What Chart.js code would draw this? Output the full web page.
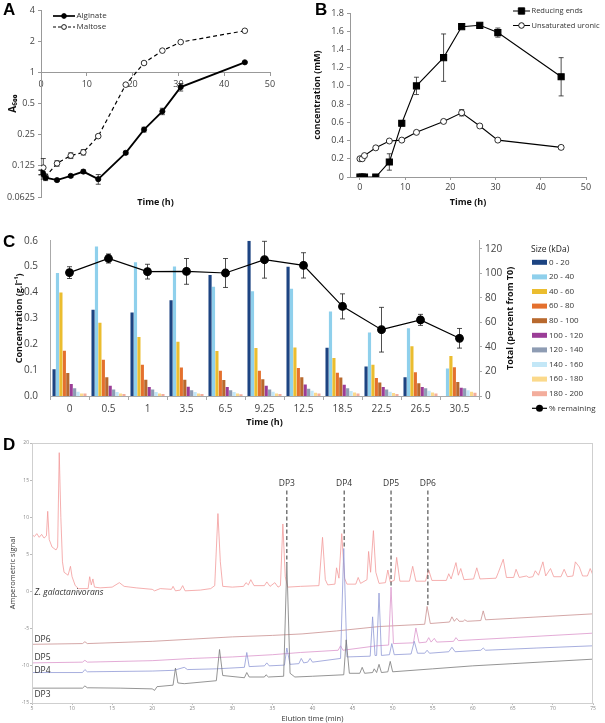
<!DOCTYPE html>
<html><head><meta charset="utf-8">
<script src="https://cdn.jsdelivr.net/npm/chart.js@4.4.1/dist/chart.umd.min.js"></script>
<style>
body{margin:0;background:#fff;width:605px;height:723px;position:relative;overflow:hidden;font-family:"Open Sans",sans-serif}
.p{position:absolute}
.lbl{position:absolute;font:bold 17px "Liberation Sans",Arial,sans-serif;line-height:17px;color:#000}
canvas{display:block}
</style></head><body>
<div class="p" style="left:0;top:0"><canvas id="cA" width="300" height="215"></canvas></div>
<div class="p" style="left:300px;top:0"><canvas id="cB" width="305" height="215"></canvas></div>
<div class="p" style="left:0;top:225px"><canvas id="cC" width="605" height="210"></canvas></div>
<div class="p" style="left:0;top:435px"><canvas id="cD" width="605" height="288"></canvas></div>
<div class="lbl" style="left:3px;top:1px">A</div>
<div class="lbl" style="left:315px;top:1px">B</div>
<div class="lbl" style="left:3px;top:233px">C</div>
<div class="lbl" style="left:3px;top:436px">D</div>
<script>
// ---------- Panel A data ----------
const timeA = [0,0.5,1,3.5,6.5,9.25,12.5,18.5,22.5,26.5,30.5,44.5];
const alginate = [0.108,0.104,0.096,0.091,0.100,0.110,0.093,0.167,0.28,0.42,0.72,1.25];
const alginateErr = [0.005,0.006,0.006,0.003,0.003,0.004,0.01,0.006,0.015,0.03,0.06,0.02];
const maltose = [0.108,0.120,0.098,0.132,0.157,0.169,0.242,0.76,1.23,1.62,1.96,2.52];
const maltoseErr = [0.006,0.027,0.006,0.008,0.01,0.01,0.006,0.02,0.03,0.03,0.03,0.03];
const yTicksA = [0.0625,0.125,0.25,0.5,1,2,4];
// ---------- Panel B data ----------
const timeB = [0,0.5,1,3.5,6.5,9.25,12.5,18.5,22.5,26.5,30.5,44.5];
const reducingEnds = [0,0,0,0,0.165,0.59,1.0,1.31,1.65,1.665,1.585,1.10];
const reducingErr = [0,0,0,0,0.09,0.03,0.095,0.26,0.02,0.02,0.05,0.21];
const uronic = [0.2,0.2,0.235,0.32,0.395,0.405,0.49,0.61,0.705,0.56,0.405,0.325];
const uronicErr = [0.01,0.01,0.01,0.01,0.01,0.01,0.01,0.02,0.035,0.01,0.01,0.02];
const xTicksB = [0,10,20,30,40,50];
// ---------- Panel C data ----------
const timeC = ['0','0.5','1','3.5','6.5','9.25','12.5','18.5','22.5','26.5','30.5'];
const sizeClasses = ['0 - 20','20 - 40','40 - 60','60 - 80','80 - 100','100 - 120','120 - 140','140 - 160','160 - 180','180 - 200'];
const s0_20    = [0.103,0.333,0.323,0.370,0.467,0.600,0.499,0.186,0.114,0.072,0];
const s20_40   = [0.475,0.578,0.517,0.500,0.422,0.405,0.414,0.326,0.245,0.262,0.106];
const s40_60   = [0.400,0.283,0.228,0.210,0.174,0.185,0.187,0.147,0.121,0.192,0.155];
const s60_80   = [0.175,0.140,0.121,0.110,0.098,0.098,0.108,0.090,0.070,0.092,0.111];
const s80_100  = [0.089,0.072,0.063,0.063,0.062,0.065,0.072,0.071,0.052,0.049,0.054];
const s100_120 = [0.046,0.040,0.035,0.036,0.035,0.040,0.044,0.043,0.035,0.035,0.032];
const s120_140 = [0.030,0.025,0.025,0.022,0.022,0.025,0.028,0.030,0.025,0.030,0.030];
const s140_160 = [0.016,0.015,0.015,0.015,0.015,0.016,0.020,0.019,0.016,0.020,0.022];
const s160_180 = [0.010,0.010,0.010,0.010,0.010,0.010,0.013,0.014,0.012,0.014,0.016];
const s180_200 = [0.010,0.008,0.008,0.008,0.007,0.008,0.010,0.010,0.008,0.010,0.013];
const remaining = [100.5,112,101.3,101.5,100.2,111,106.4,73,54,62,47];
const remainingErr = [4.8,3.7,6,10.5,11.8,15,10.3,10.2,18.2,4.5,8];
const yTicksC2 = [0,20,40,60,80,100,120];
// ---------- Panel D data (elution time min, signal) ----------
const zGalTrace = [[5,7.7],[5.3,7.4],[5.6,7.8],[5.9,7.3],[6.2,7.7],[6.5,7.2],[6.8,7.5],[6.96,10.8],[7.15,7.0],[7.5,6.0],[8.0,5.6],[8.2,6.0],[8.4,18.7],[8.6,10],[8.8,4.0],[9.0,2.6],[9.5,2.2],[9.8,3.4],[10.0,2.0],[10.4,0.8],[10.8,0.4],[12.0,0.4],[12.2,2.0],[12.4,0.9],[12.6,1.7],[12.8,0.6],[13.5,0.5],[15,0.6],[15.9,1.2],[16.5,0.7],[18,0.5],[20,0.3],[20.3,0.1],[21,0.4],[22.4,0.3],[22.6,0.7],[22.9,0.1],[23.5,0.2],[23.8,0.8],[24.1,0.1],[26,0.2],[27.3,0.4],[27.8,0.8],[28.2,10.5],[28.5,4],[28.8,0.7],[30,0.6],[31.4,0.7],[31.7,1.2],[32.0,0.9],[32.3,1.6],[32.7,0.8],[34,0.8],[34.3,1.3],[34.7,0.7],[35.3,1.2],[35.7,0.6],[36.0,0.8],[36.3,9.1],[36.6,2],[36.9,0.6],[38.5,0.7],[40.8,0.8],[41.25,7.3],[41.6,1.6],[41.9,0.9],[42.8,1.0],[43.0,3.2],[43.3,1.8],[43.65,7.8],[44.0,1.8],[44.3,1.0],[45.4,1.0],[45.7,1.9],[46.0,1.1],[46.8,1.6],[47.0,5.4],[47.25,2.6],[47.6,8.2],[47.9,2.6],[48.3,1.1],[49.1,1.2],[49.4,2.9],[49.7,1.3],[50.2,1.5],[50.5,4.6],[50.9,1.4],[52.1,1.4],[52.5,3.4],[52.9,1.4],[54.1,1.4],[54.5,2.9],[54.9,1.5],[56.7,1.5],[57.0,2.4],[57.3,1.7],[57.9,3.9],[58.2,2.2],[58.5,3.1],[58.9,1.6],[60.1,1.7],[60.5,3.2],[60.9,1.7],[62.9,1.8],[63.2,2.6],[63.8,4.35],[64.2,1.9],[65.1,1.9],[65.4,3.0],[65.8,1.9],[66.7,2.1],[67.0,1.9],[67.5,2.0],[67.8,2.8],[68.2,2.2],[68.75,4.0],[69.1,2.1],[69.7,3.1],[70.1,2.0],[71.0,2.0],[71.4,3.0],[71.8,2.0],[72.5,2.1],[72.8,4.0],[73.3,3.3],[73.7,2.1],[74.3,2.1],[74.65,3.1],[75,2.2]];
const dp6Trace = [[5,-7.1],[11.3,-7.0],[11.6,-6.75],[11.9,-7.0],[20,-6.7],[25,-6.4],[30,-6.1],[35,-5.9],[38.7,-5.7],[43,-5.3],[48.4,-4.7],[54.0,-4.4],[54.3,-2.0],[54.7,-4.3],[57.1,-4.1],[57.4,-3.4],[57.7,-4.0],[58.0,-3.6],[58.3,-4.0],[58.8,-4.0],[59.0,-3.8],[59.3,-4.0],[61.0,-3.9],[61.3,-2.6],[61.6,-3.8],[65,-3.6],[70,-3.3],[75,-3.0]];
const dp5Trace = [[5,-9.6],[11.3,-9.5],[11.6,-9.25],[11.9,-9.5],[20,-9.3],[25,-9.0],[30,-8.8],[35,-8.5],[38.5,-8.2],[43.2,-7.9],[43.5,-7.3],[43.8,-7.9],[48,-7.3],[49.5,-7.2],[49.8,0.6],[50.1,-7.0],[52.6,-6.9],[52.9,-4.9],[53.3,-6.9],[54.2,-6.8],[54.5,-6.2],[54.8,-6.8],[55.2,-6.3],[55.5,-6.8],[57.6,-6.7],[57.9,-6.2],[58.2,-6.6],[65,-6.2],[70,-5.9],[75,-5.6]];
const dp4Trace = [[5,-10.9],[11.3,-10.9],[11.6,-10.5],[11.9,-10.8],[20,-10.7],[22.7,-10.6],[24.0,-10.2],[24.4,-10.5],[28,-10.4],[31.5,-10.2],[31.8,-8.2],[32.1,-10.1],[34.0,-10.0],[34.3,-9.6],[34.6,-10.0],[36.5,-9.9],[36.8,-7.6],[37.2,-9.8],[38.3,-9.7],[38.6,-9.0],[38.9,-9.6],[39.4,-9.5],[39.7,-9.0],[40.0,-9.5],[43.5,-9.0],[43.9,5.8],[44.3,-8.8],[47.2,-8.7],[47.5,-3.4],[47.8,-8.6],[48.0,-8.6],[48.3,-0.2],[48.6,-8.6],[49.6,-8.5],[49.9,-7.0],[50.2,-8.5],[52.3,-8.4],[52.7,-6.7],[53.1,-8.3],[54.0,-8.3],[54.3,-7.9],[54.6,-8.3],[57.0,-8.1],[57.4,-7.5],[57.8,-8.1],[61.0,-7.9],[61.3,-7.6],[61.6,-7.9],[68,-7.6],[75,-7.3]];
const dp3Trace = [[5,-13.0],[11.3,-13.0],[11.6,-12.7],[11.9,-12.95],[16,-13.0],[20,-13.1],[20.3,-13.3],[20.6,-12.8],[22.6,-12.6],[22.9,-10.3],[23.2,-12.3],[24,-12.4],[28,-12.0],[28.4,-7.8],[28.8,-11.3],[31.5,-11.6],[31.8,-10.9],[32.1,-11.5],[34.0,-11.5],[34.2,-11.2],[34.5,-11.5],[36.4,-11.4],[36.8,3.8],[37.2,-11.0],[37.8,-11.5],[40,-11.4],[43.9,-11.2],[44.2,-6.5],[44.6,-11.0],[45.9,-11.0],[46.2,-10.2],[46.5,-11.0],[47.5,-10.9],[47.7,-10.4],[48.0,-10.9],[48.3,-9.8],[48.6,-10.9],[49.4,-10.8],[49.7,-9.4],[50.0,-10.8],[55,-10.4],[60,-10.0],[65,-9.7],[70,-9.4],[75,-9.1]];
const dpMarkerNames = ['DP3','DP4','DP5','DP6'];
const dpMarkerTimes = [36.8,43.95,49.8,54.4];
const dpMarkerEnds  = [3.8,5.8,0.6,-2.1];
const traceLabels = ['Z. galactanivorans','DP6','DP5','DP4','DP3'];
const traceLabelY = [-0.2,-6.5,-8.9,-10.6,-13.8];

// ---------- common ----------
Chart.defaults.font.family = '"Open Sans", sans-serif';
Chart.defaults.color = '#333';
Chart.defaults.animation = false;
Chart.defaults.plugins.legend.display = false;
Chart.defaults.plugins.tooltip.enabled = false;
const xy = (xs, ys) => xs.map((x,i)=>({x, y: ys[i]}));
const pairs = arr => arr.map(p=>({x:p[0], y:p[1]}));

const errorBars = {
  id:'errorBars',
  beforeDatasetsDraw(chart){
    const ctx = chart.ctx;
    chart.data.datasets.forEach((ds,i)=>{
      if(!ds.errors) return;
      const meta = chart.getDatasetMeta(i);
      const ys = chart.scales[meta.yAxisID];
      ctx.save(); ctx.strokeStyle = '#222'; ctx.lineWidth = 0.8;
      meta.data.forEach((pt,j)=>{
        const e = ds.errors[j]; if(!e) return;
        const d = ds.data[j]; const v = (typeof d === 'object') ? d.y : d;
        const t = ys.getPixelForValue(v+e), b = ys.getPixelForValue(v-e);
        ctx.beginPath();
        ctx.moveTo(pt.x,t); ctx.lineTo(pt.x,b);
        ctx.moveTo(pt.x-2.5,t); ctx.lineTo(pt.x+2.5,t);
        ctx.moveTo(pt.x-2.5,b); ctx.lineTo(pt.x+2.5,b);
        ctx.stroke();
      });
      ctx.restore();
    });
  }
};
// free text / legend drawing
const extras = {
  id:'extras',
  afterDraw(chart, args, opts){
    const ctx = chart.ctx;
    (opts.items||[]).forEach(it=>{
      ctx.save();
      let x = it.x, y = it.y;
      if(it.xv !== undefined) x = chart.scales.x.getPixelForValue(it.xv);
      if(it.yv !== undefined) y = chart.scales.y.getPixelForValue(it.yv);
      if(it.type === 'legendLine'){
        ctx.strokeStyle = '#000'; ctx.lineWidth = it.lw||1.2;
        ctx.setLineDash(it.dash||[]);
        ctx.beginPath(); ctx.moveTo(x, y); ctx.lineTo(x+it.w, y); ctx.stroke();
        ctx.setLineDash([]);
        const cx = x + it.w/2;
        ctx.fillStyle = it.fill; ctx.lineWidth = 0.9;
        ctx.beginPath();
        if(it.shape === 'rect'){ ctx.rect(cx-it.r, y-it.r, 2*it.r, 2*it.r); }
        else { ctx.arc(cx, y, it.r, 0, Math.PI*2); }
        ctx.fill(); ctx.stroke();
        ctx.fillStyle = '#333'; ctx.font = it.font; ctx.textBaseline = 'middle'; ctx.textAlign = 'left';
        ctx.fillText(it.text, x+it.w+1.5, y);
      } else if(it.type === 'frame'){
        const a = chart.chartArea; ctx.strokeStyle = it.color; ctx.lineWidth = 1;
        ctx.strokeRect(a.left+0.5, a.top+0.5, a.right-a.left-1, a.bottom-a.top);
      } else {
        ctx.translate(x, y);
        if(it.rot) ctx.rotate(it.rot);
        ctx.font = it.font; ctx.fillStyle = it.color||'#222';
        ctx.textAlign = it.align||'center'; ctx.textBaseline = it.base||'middle';
        ctx.fillText(it.text, 0, 0);
      }
      ctx.restore();
    });
  }
};
Chart.register(errorBars, extras);

// ---------- Panel A ----------
new Chart(document.getElementById('cA'), {
  type:'line',
  data:{datasets:[
    {label:'Alginate', data: xy(timeA, alginate), errors: alginateErr, borderColor:'#000', borderWidth:1.8,
     pointRadius:2.6, pointBackgroundColor:'#000', pointBorderColor:'#000', pointBorderWidth:0.8},
    {label:'Maltose', data: xy(timeA, maltose), errors: maltoseErr, borderColor:'#000', borderWidth:1.2, borderDash:[4,3],
     pointRadius:2.8, pointBackgroundColor:'#fff', pointBorderColor:'#000', pointBorderWidth:0.8}
  ]},
  options:{responsive:false,
    layout:{padding:{left:0,right:30,top:10,bottom:0}},
    scales:{
      x:{type:'linear', min:0, max:50, position:{y:1},
         ticks:{stepSize:10, font:{size:9}, color:'#444', padding:4},
         grid:{drawOnChartArea:false, tickLength:3, color:'#999'}, border:{color:'#999'}},
      xt:{type:'linear', position:'bottom', ticks:{display:false}, grid:{display:false}, border:{display:false},
         title:{display:true, text:'Time (h)', font:{size:9, weight:'bold'}, color:'#111', padding:{top:0,bottom:7}},
         afterFit(s){ s.height = 18; }},
      y:{type:'logarithmic', min:0.0625, max:4,
         afterBuildTicks(s){ s.ticks = yTicksA.map(v=>({value:v})); },
         ticks:{callback:v=>String(v), font:{size:9}, color:'#444', padding:3},
         grid:{drawOnChartArea:false, tickLength:3, color:'#999'}, border:{color:'#999'},
         title:{display:true, text:'A₆₀₀', font:{size:10, weight:'bold'}, color:'#111', padding:{top:7,bottom:0}},
         afterFit(s){ s.width = 41; }}
    },
    plugins:{extras:{items:[
      {type:'legendLine', x:53, y:16, w:22, r:2.4, fill:'#000', text:'Alginate', font:'8px "Open Sans"', lw:1.7},
      {type:'legendLine', x:53, y:27, w:22, r:2.4, fill:'#fff', text:'Maltose', font:'8px "Open Sans"', lw:1.2, dash:[3,2]}
    ]}}
  }
});

// ---------- Panel B ----------
new Chart(document.getElementById('cB'), {
  type:'line',
  data:{datasets:[
    {label:'Reducing ends', data: xy(timeB, reducingEnds), errors: reducingErr, borderColor:'#000', borderWidth:1.1,
     pointStyle:'rect', pointRadius:4.3, pointBackgroundColor:'#000', pointBorderColor:'#000'},
    {label:'Unsaturated uronic', data: xy(timeB, uronic), errors: uronicErr, borderColor:'#000', borderWidth:1.1,
     pointRadius:3, pointBackgroundColor:'#fff', pointBorderColor:'#000', pointBorderWidth:0.8}
  ]},
  options:{responsive:false,
    layout:{padding:{left:0,right:19,top:13,bottom:0}},
    scales:{
      x:{type:'linear', min:-2.2, max:50, position:'bottom',
         afterBuildTicks(s){ s.ticks = xTicksB.map(v=>({value:v})); },
         ticks:{font:{size:9}, color:'#444', padding:2},
         grid:{drawOnChartArea:false, tickLength:3, color:'#999'}, border:{color:'#999'},
         title:{display:true, text:'Time (h)', font:{size:9, weight:'bold'}, color:'#111', padding:{top:0,bottom:7}},
         afterFit(s){ s.height = 38; }},
      y:{type:'linear', min:0, max:1.8,
         ticks:{stepSize:0.2, font:{size:9}, color:'#444', padding:3},
         grid:{drawOnChartArea:false, tickLength:3, color:'#999'}, border:{color:'#999'},
         title:{display:true, text:'concentration (mM)', font:{size:9, weight:'bold'}, color:'#111', padding:{top:12,bottom:0}},
         afterFit(s){ s.width = 50; }}
    },
    plugins:{extras:{items:[
      {type:'legendLine', x:213, y:11, w:17, r:3.2, shape:'rect', fill:'#000', text:'Reducing ends', font:'7.5px "Open Sans"', lw:1},
      {type:'legendLine', x:213, y:25.5, w:17, r:2.8, fill:'#fff', text:'Unsaturated uronic', font:'7.5px "Open Sans"', lw:1}
    ]}}
  }
});

// ---------- Panel C ----------
const sizeColors = ['#1d4482','#8fd0ec','#ebbd2f','#e4702e','#b8692e','#9b3d97','#8e9cb3','#c3e7f7','#fbd98b','#f3ad9c'];
const sizeSeries = [s0_20,s20_40,s40_60,s60_80,s80_100,s100_120,s120_140,s140_160,s160_180,s180_200];
const cDatasets = sizeSeries.map((d,i)=>({type:'bar', label:sizeClasses[i], data:d, backgroundColor:sizeColors[i],
  yAxisID:'y', order:2, barPercentage:0.92, categoryPercentage:0.88}));
cDatasets.push({type:'line', label:'% remaining', data:remaining, errors:remainingErr, yAxisID:'y2', order:0,
  borderColor:'#000', borderWidth:1.2, pointRadius:3.8, pointBackgroundColor:'#000', pointBorderColor:'#000'});
new Chart(document.getElementById('cC'), {
  data:{labels:timeC, datasets:cDatasets},
  options:{responsive:false,
    layout:{padding:{left:0,right:0,top:15.7,bottom:0}},
    scales:{
      x:{type:'category', position:'bottom',
         ticks:{font:{size:10}, color:'#444', padding:3},
         grid:{drawOnChartArea:false, tickLength:4, color:'#aaa', offset:true}, border:{color:'#aaa'},
         title:{display:true, text:'Time (h)', font:{size:9, weight:'bold'}, color:'#111', padding:{top:0,bottom:7}},
         afterFit(s){ s.height = 39; }},
      y:{type:'linear', position:'left', min:0, max:0.6,
         ticks:{stepSize:0.1, font:{size:10}, color:'#444', padding:4, callback:v=>v.toFixed(1)},
         grid:{display:false}, border:{color:'#aaa'},
         title:{display:true, text:'Concentration (g.l⁻¹)', font:{size:9, weight:'bold'}, color:'#111', padding:{top:14,bottom:0}},
         afterFit(s){ s.width = 50; }},
      y2:{type:'linear', position:'right', min:0, max:126.5,
         afterBuildTicks(s){ s.ticks = yTicksC2.map(v=>({value:v})); },
         ticks:{font:{size:10}, color:'#444', padding:3},
         grid:{drawOnChartArea:false, tickLength:3, color:'#aaa'}, border:{color:'#aaa'},
         afterFit(s){ s.width = 126; }}
    },
    plugins:{extras:{items:[]}}
  },
  plugins:[{
    id:'legendC',
    afterDraw(chart){
      const ctx = chart.ctx; ctx.save();
      const a = chart.chartArea;
      ctx.translate(510, (a.top+a.bottom)/2); ctx.rotate(-Math.PI/2);
      ctx.font = 'bold 9px "Open Sans"'; ctx.fillStyle = '#111'; ctx.textAlign='center'; ctx.textBaseline='middle';
      ctx.fillText('Total (percent from T0)', 0, 0);
      ctx.setTransform(1,0,0,1,0,0);
      ctx.font = '8.5px "Open Sans"'; ctx.fillStyle = '#222'; ctx.textAlign='left';
      ctx.fillText('Size (kDa)', 531, 25);
      chart.data.datasets.forEach((ds,i)=>{
        const y = 37.3 + i*14.6;
        ctx.font = '8px "Open Sans"';
        if(ds.type === 'bar'){
          ctx.fillStyle = ds.backgroundColor; ctx.fillRect(532, y-2.5, 15, 5);
          ctx.fillStyle = '#333'; ctx.fillText(ds.label, 549, y);
        } else {
          ctx.strokeStyle='#000'; ctx.lineWidth=1.2; ctx.beginPath(); ctx.moveTo(532,y); ctx.lineTo(547,y); ctx.stroke();
          ctx.fillStyle='#000'; ctx.beginPath(); ctx.arc(539.5,y,3.5,0,Math.PI*2); ctx.fill();
          ctx.fillStyle = '#333'; ctx.fillText(ds.label, 549, y);
        }
      });
      ctx.restore();
    }
  }]
});

// ---------- Panel D ----------
const traceColors = ['#f39a9a','#c99090','#dc96cb','#9199d6','#7a7a7a'];
const traces = [zGalTrace, dp6Trace, dp5Trace, dp4Trace, dp3Trace];
const dDatasets = traces.map((t,i)=>({label:traceLabels[i], data:pairs(t), showLine:true, borderColor:traceColors[i],
  borderWidth:0.8, pointRadius:0, order:i===0?6:5-i}));
dpMarkerNames.forEach((n,i)=>{
  dDatasets.push({label:n, data:[{x:dpMarkerTimes[i], y:13.6},{x:dpMarkerTimes[i], y:dpMarkerEnds[i]}], showLine:true,
    borderColor:'#333', borderWidth:1, borderDash:[4,2.5], pointRadius:0, order:0});
});
const dItems = [{type:'frame', color:'#cfcfcf'}];
traceLabels.forEach((t,i)=>dItems.push({text:t, xv:5.3, yv:traceLabelY[i], align:'left',
  font:(i===0?'italic ':'')+'8.5px "Open Sans"', color:'#333'}));
dpMarkerNames.forEach((n,i)=>dItems.push({text:n, xv:dpMarkerTimes[i], yv:14.6, align:'center', font:'8.5px "Open Sans"', color:'#333'}));
new Chart(document.getElementById('cD'), {
  type:'scatter',
  data:{datasets:dDatasets},
  options:{responsive:false,
    layout:{padding:{left:0,right:12,top:8,bottom:0}},
    scales:{
      x:{type:'linear', min:5, max:75,
         ticks:{stepSize:5, font:{size:5}, color:'#888', padding:1},
         grid:{drawOnChartArea:false, tickLength:2, color:'#bbb'}, border:{color:'#cfcfcf'},
         title:{display:true, text:'Elution time (min)', font:{size:7.5}, color:'#333', padding:{top:0,bottom:0}},
         afterFit(s){ s.height = 20; }},
      y:{type:'linear', min:-15, max:20,
         ticks:{stepSize:5, font:{size:5}, color:'#888', padding:1},
         grid:{drawOnChartArea:false, tickLength:2, color:'#bbb'}, border:{color:'#cfcfcf'},
         title:{display:true, text:'Amperometric signal', font:{size:7.5}, color:'#333', padding:{top:8,bottom:0}},
         afterFit(s){ s.width = 32; }}
    },
    plugins:{extras:{items:dItems}}
  }
});
</script>
</body></html>
